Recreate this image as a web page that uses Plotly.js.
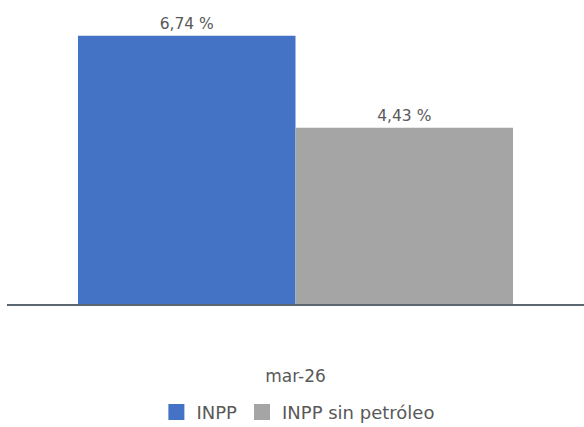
<!DOCTYPE html>
<html>
<head>
<meta charset="utf-8">
<script src="https://cdn.plot.ly/plotly-3.0.1.min.js"></script>
<style>html,body{margin:0;padding:0;background:#fff}#chart{width:584px;height:427px}</style>
</head>
<body>
<div id="chart"></div>
<script>
const categories = ["mar-26"];
const seriesNames = ["INPP", "INPP sin petróleo"];
const inpp = [6.74];
const inppSinPetroleo = [4.43];
const colors = ["#4472c4", "#a5a5a5"];

const fam = "'DejaVu Sans', sans-serif";
const labelFont = {family: fam, size: 15.5, color: "#595959"};
const tickFont = {family: fam, size: 17, color: "#595959"};
const legendFont = {family: fam, size: 18, color: "#595959"};

const traces = [
  {type: "bar", name: seriesNames[0], x: categories, y: inpp, showlegend: false,
   marker: {color: colors[0]}, texttemplate: "%{y:.2f} %", textposition: "outside",
   textfont: labelFont, cliponaxis: false, hoverinfo: "skip"},
  {type: "bar", name: seriesNames[1], x: categories, y: inppSinPetroleo, showlegend: false,
   marker: {color: colors[1]}, texttemplate: "%{y:.2f} %", textposition: "outside",
   textfont: labelFont, cliponaxis: false, hoverinfo: "skip"},
  {type: "scatter", mode: "markers", name: seriesNames[0], x: [null], y: [null],
   marker: {color: colors[0], symbol: "square", size: 20}, hoverinfo: "skip"},
  {type: "scatter", mode: "markers", name: seriesNames[1], x: [null], y: [null],
   marker: {color: colors[1], symbol: "square", size: 20}, hoverinfo: "skip"}
];

const layout = {
  width: 584, height: 427,
  margin: {l: 7, r: 0, t: 10, b: 123, autoexpand: false},
  separators: ",.",
  barmode: "group",
  bargap: 0.246,
  bargroupgap: 0,
  paper_bgcolor: "#fff", plot_bgcolor: "#fff",
  font: tickFont,
  xaxis: {type: "category", showline: true, linecolor: "#5a6670", linewidth: 2,
          ticks: "", ticklabelstandoff: 56, tickfont: tickFont, showgrid: false, zeroline: false},
  yaxis: {range: [0, 7.39], visible: false, showgrid: false, zeroline: false},
  showlegend: true,
  legend: {orientation: "h", x: 0.505, xanchor: "center", y: -0.368, yanchor: "middle",
           font: legendFont, traceorder: "normal", itemsizing: "trace"}
};

Plotly.newPlot("chart", traces, layout, {displayModeBar: false, staticPlot: true});
</script>
</body>
</html>
